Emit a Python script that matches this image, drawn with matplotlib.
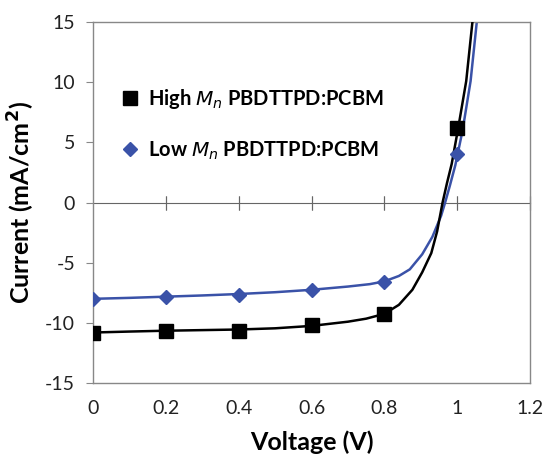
import matplotlib
matplotlib.use("Agg")
import matplotlib.pyplot as plt

plt.rcParams['font.family'] = ['Lato', 'DejaVu Sans']
plt.rcParams['axes.unicode_minus'] = False

# measured points
voltage = [0, 0.2, 0.4, 0.6, 0.8, 1.0]
high_mn = [-10.8, -10.7, -10.7, -10.2, -9.3, 6.2]
low_mn = [-8.0, -7.85, -7.65, -7.3, -6.6, 4.0]

# fitted curves
high_fit_v = [0, 0.1, 0.2, 0.3, 0.4, 0.5, 0.6, 0.7, 0.75, 0.8, 0.84, 0.877,
              0.904, 0.929, 0.945, 0.960, 0.972, 0.985, 1.003, 1.025, 1.042]
high_fit_i = [-10.8, -10.72, -10.65, -10.6, -10.55, -10.45, -10.25, -9.9, -9.65,
              -9.25, -8.5, -7.25, -5.8, -4.2, -2.4, 0, 1.6, 3.2, 6.2, 10.1, 15]
low_fit_v = [0, 0.1, 0.2, 0.3, 0.4, 0.5, 0.6, 0.7, 0.76, 0.8, 0.84, 0.87,
             0.904, 0.932, 0.956, 0.967, 0.98, 0.995, 1.015, 1.037, 1.054]
low_fit_i = [-8.0, -7.92, -7.82, -7.72, -7.6, -7.45, -7.25, -6.98, -6.78,
             -6.55, -6.1, -5.55, -4.3, -2.85, -1.1, 0, 1.4, 3.1, 6.0, 10.1, 15]

labels = [r'High $\boldsymbol{M_n}$ PBDTTPD:PCBM', r'Low $\boldsymbol{M_n}$ PBDTTPD:PCBM']

fig = plt.figure(figsize=(5.48, 4.70), dpi=100)
ax = fig.add_axes([0.170, 0.185, 0.797, 0.768])

ax.plot(high_fit_v, high_fit_i, color='black', lw=1.8, zorder=3)
ax.plot(low_fit_v, low_fit_i, color='#3a52a8', lw=1.8, zorder=2)
ax.plot(voltage, high_mn, 's', color='black', ms=10, ls='none', label=labels[0], zorder=4)
ax.plot(voltage, low_mn, 'D', color='#3a52a8', ms=7, ls='none', label=labels[1], zorder=4)

ax.set_xlim(0, 1.2)
ax.set_ylim(-15, 15)
ax.set_xticks([0, 0.2, 0.4, 0.6, 0.8, 1.0, 1.2])
ax.set_xticklabels(['0', '0.2', '0.4', '0.6', '0.8', '1', '1.2'])
ax.set_yticks(range(-15, 16, 5))

for s in ax.spines.values():
    s.set_color('#888888')
    s.set_linewidth(1.0)
ax.tick_params(axis='x', length=0, pad=12, labelsize=14, colors='#222222')
ax.tick_params(axis='y', direction='out', length=5, color='#888888', labelsize=14,
               labelcolor='#222222', pad=8)

# zero line with crossing ticks
zero = ax.secondary_xaxis(0.5)
zero.set_xticks([0.2, 0.4, 0.6, 0.8, 1.0, 1.2])
zero.xaxis.set_tick_params(direction='inout', length=10, color='#666666',
                           top=True, bottom=True, labeltop=False, labelbottom=False)
for s in zero.spines.values():
    s.set_color('#666666')

ax.set_xlabel('Voltage (V)', fontsize=18, fontweight='bold', labelpad=10)
ax.set_ylabel('Current (mA/cm$^\\mathbf{2}$)', fontsize=18, fontweight='bold', labelpad=6)

leg = ax.legend(loc='upper left', bbox_to_anchor=(0.02, 0.87), frameon=False,
                prop={'size': 14.5, 'weight': 'bold'}, labelspacing=1.4,
                handletextpad=0.4, handlelength=1.0)

fig.savefig('out.png', dpi=100)
